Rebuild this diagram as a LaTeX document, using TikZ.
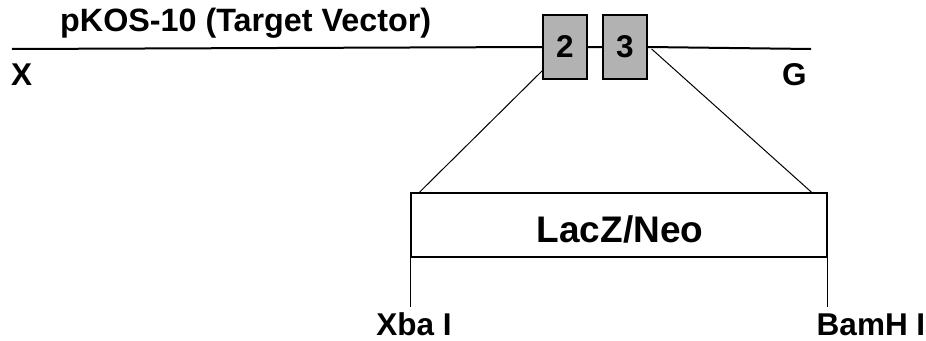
\documentclass[tikz,border=0pt]{standalone}
\usepackage{fontspec}
\setmainfont{Liberation Sans}
\definecolor{exongray}{RGB}{178,178,178}
\tikzset{
	exonbox/.style={shape=rectangle, draw, line width=1.3pt, fill=exongray, minimum width=44pt, minimum height=64pt, inner sep=0pt},
	sitelabel/.style={anchor=base, inner sep=0pt},
	thinwire/.style={line width=1pt}
}
\begin{document}
\begin{tikzpicture}[x=1pt, y=-1pt, font=\bfseries\fontsize{31.5}{31.5}\selectfont]
	\useasboundingbox (0,0) rectangle (926,340);
	% Paths, nodes and wires:
	\coordinate (vecL) at (12,49);
	\coordinate (vecR) at (811,49);
	\node[exonbox] (ex2) at (565,47){2};
	\node[exonbox] (ex3) at (625,47){3};
	\draw[line width=2pt] (vecL) -- (ex2.west) (ex2.east) -- (ex3.west) (ex3.east) -- (vecR);
	\node[anchor=base west, inner sep=0pt, font=\bfseries\fontsize{32.3}{32.3}\selectfont] (title) at (60,31){pKOS-10 (Target Vector)};
	\node[anchor=base west, inner sep=0pt] (xlab) at (11,85){X};
	\node[anchor=base west, inner sep=0pt] (glab) at (782,85){G};
	\node[shape=rectangle, draw, line width=1.3pt, minimum width=416pt, minimum height=64pt] (lacz) at (619,225){} node[anchor=base, inner sep=0pt, font=\bfseries\fontsize{37}{37}\selectfont] (lacztext) at (620,242){LacZ/Neo};
	\draw[thinwire] ([yshift=9pt]ex2.south west) -- ([xshift=9pt]lacz.north west);
	\draw[thinwire] ([xshift=4pt,yshift=-2pt]ex3.east) -- ([xshift=-16pt]lacz.north east);
	\node[sitelabel] (xba) at (414,335){Xba I};
	\node[sitelabel] (bamh) at (871,335){BamH I};
	\draw[thinwire] (lacz.south west) -- ++(0,49);
	\draw[thinwire] (lacz.south east) -- ++(0,49);
\end{tikzpicture}
\end{document}
